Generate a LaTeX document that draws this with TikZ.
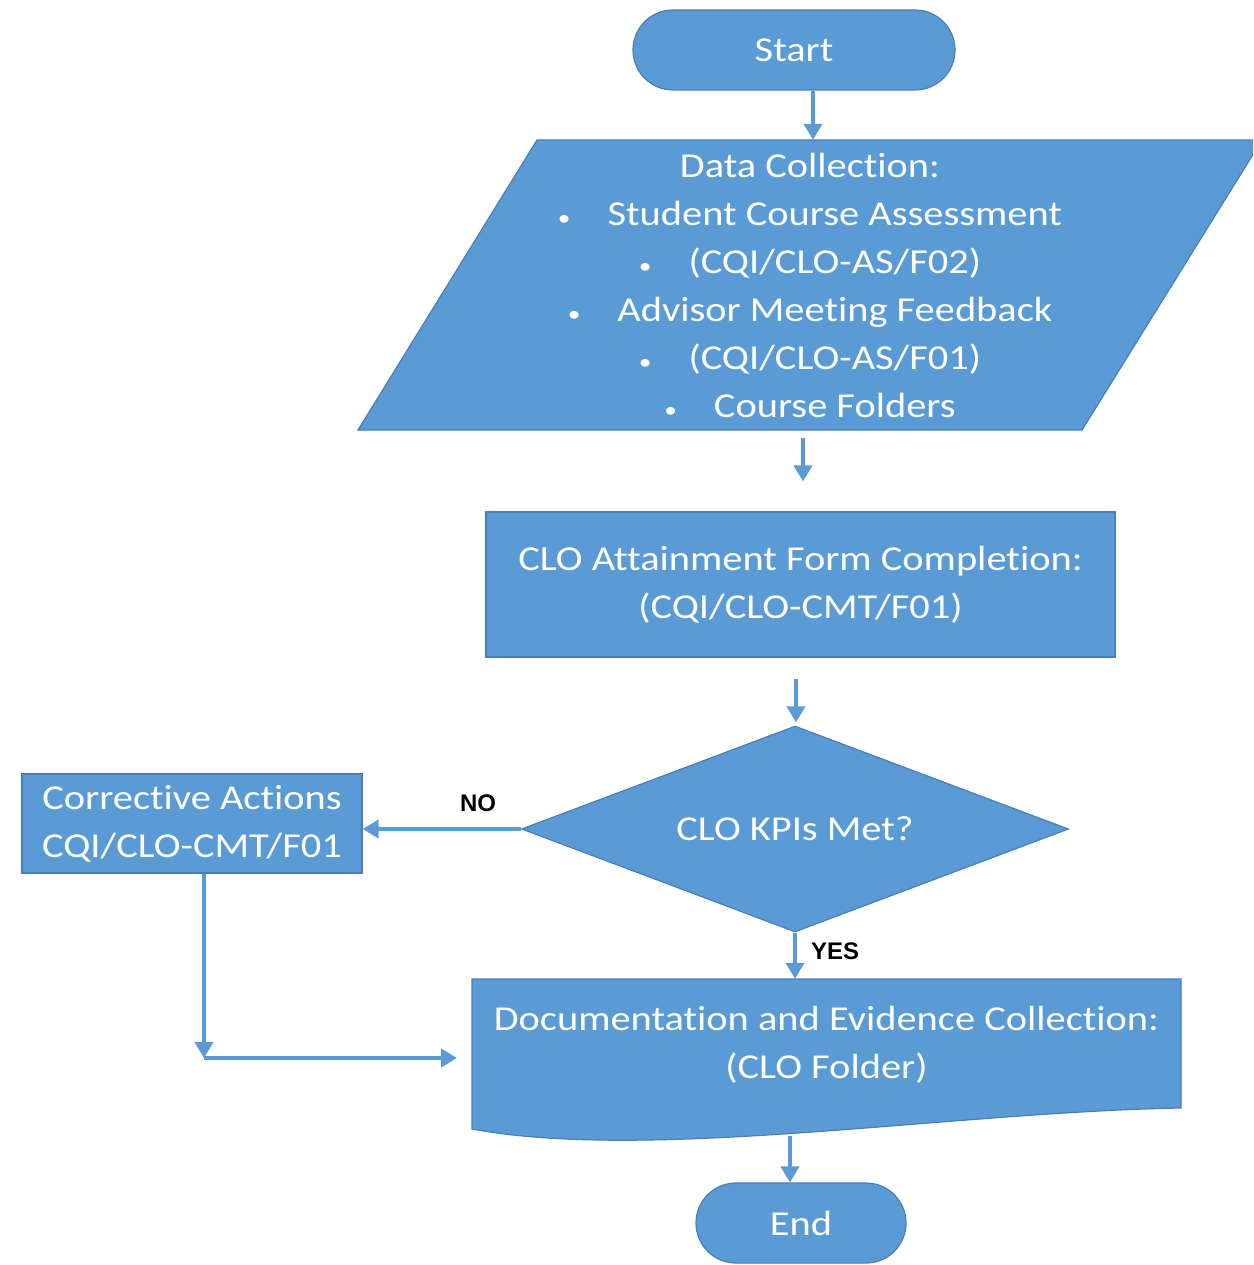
\documentclass[tikz,border=0pt]{standalone}
\usepackage{fontspec}
\setmainfont{Carlito}[FakeStretch=1.155,Ligatures=NoCommon]
\newfontfamily\labelfont{Liberation Sans}
\usetikzlibrary{shapes.geometric,shapes.misc,arrows.meta,calc}
\definecolor{boxblue}{HTML}{5B9BD5}
\definecolor{edgeblue}{HTML}{4A7EBB}
\newcommand{\smallbul}{{\fontsize{22}{22}\selectfont\textbullet}\hspace{37pt}}
\begin{document}
\begin{tikzpicture}[x=1pt,y=-1pt,
  shapefill/.style={fill=boxblue, draw=edgeblue, line width=1.2pt},
  boxtext/.style={text=white, font=\fontsize{35}{48}\selectfont, align=center, inner sep=0pt},
  arr/.style={draw=boxblue, line width=4.5pt, -{Triangle[width=18pt,length=16pt]}},
  lbl/.style={font=\labelfont\bfseries\fontsize{24}{28}\selectfont, text=black, inner sep=0pt}]
\useasboundingbox (0,0) rectangle (1253,1265);
\clip (0,0) rectangle (1253,1265);

% Start
\node[rounded rectangle, shapefill, boxtext, minimum width=322pt, minimum height=80pt] (start) at (794,50) {Start};

% Data collection (parallelogram)
\draw[shapefill] (537,140) -- (1262,140) -- (1082,430) -- (358,430) -- cycle;
\node[boxtext, minimum width=724pt, minimum height=290pt] (dc) at (810,285)
  {Data Collection:\\
   \smallbul Student Course Assessment\\
   \smallbul (CQI/CLO-AS/F02)\\
   \smallbul Advisor Meeting Feedback\\
   \smallbul (CQI/CLO-AS/F01)\\
   \smallbul Course Folders};

% CLO attainment
\node[rectangle, shapefill, boxtext, minimum width=629pt, minimum height=145pt] (clo) at (800.5,584.5)
  {CLO Attainment Form Completion:\\(CQI/CLO-CMT/F01)};

% Decision
\node[diamond, shapefill, boxtext, minimum width=547pt, minimum height=206pt] (kpi) at (795,829)
  {\smash{\raisebox{-11.5pt}{\makebox[0pt]{CLO KPIs Met?}}}};

% Corrective actions
\node[rectangle, shapefill, boxtext, minimum width=340pt, minimum height=99pt] (corr) at (192,823.5)
  {Corrective Actions\\CQI/CLO-CMT/F01};

% Documentation (document shape)
\draw[shapefill] (472,979) -- (1181,979) -- (1181,1108) .. controls (950,1112) and (650,1162) .. (472,1129) -- cycle;
\node[boxtext, minimum width=709pt, minimum height=132pt] (doc) at (826.5,1045)
  {Documentation and Evidence Collection:\\(CLO Folder)};

% End
\node[rounded rectangle, shapefill, boxtext, minimum width=210pt, minimum height=80pt] (finish) at (801,1223) {End};

% Connectors
\draw[arr] ($(start.south)+(19,0)$) -- ($(start.south|-dc.north)+(19,0)$);
\draw[arr] ($(dc.south)+(-7,8)$) -- ($(clo.north)+(2.5,-30)$);
\draw[arr] ($(clo.south)+(-4.5,21)$) -- ($(kpi.north)+(1,-3)$);
\draw[arr] (kpi.west) -- (kpi.west -| corr.east);
\draw[arr] (kpi.south) -- (kpi.south |- doc.north);
\node[lbl] (nolbl) at (478,803) {NO};
\node[lbl] (yeslbl) at (835,951) {YES};
\coordinate (bend) at (204,1058);
\coordinate (docin) at (457,1058);
\draw[arr] (corr.south -| bend) -- (bend);
\draw[arr] (bend) -- (docin);
\coordinate (docbot) at (790,1136);
\draw[arr] (docbot) -- (docbot |- finish.north);
\end{tikzpicture}
\end{document}
